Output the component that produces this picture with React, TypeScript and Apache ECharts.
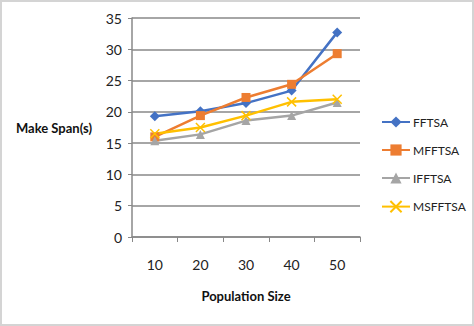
import React, { useEffect, useRef } from "react";
import * as echarts from "echarts";

const categories = ["10", "20", "30", "40", "50"];
const fftsa = [19.3, 20.1, 21.4, 23.4, 32.7];
const mfftsa = [16.0, 19.4, 22.3, 24.4, 29.3];
const ifftsa = [15.4, 16.4, 18.6, 19.4, 21.5];
const msfftsa = [16.5, 17.5, 19.4, 21.6, 22.0];

const FONT = "Lato, 'Open Sans', sans-serif";

export default function App() {
  const ref = useRef<HTMLDivElement>(null);
  useEffect(() => {
    if (!ref.current) return;
    const chart = echarts.init(ref.current, null, { renderer: "svg" });
    const mk = (name: string, data: number[], color: string, symbol: string, size: number, extra: any = {}) => ({
      name,
      type: "line",
      data,
      symbol,
      symbolSize: size,
      lineStyle: { color, width: 2.5 },
      itemStyle: { color, ...extra },
    });
    chart.setOption({
      animation: false,
      backgroundColor: "#ffffff",
      textStyle: { fontFamily: FONT },
      graphic: [
        {
          type: "rect",
          shape: { x: 1, y: 1, width: 472, height: 324 },
          style: { fill: "none", stroke: "#d4d4d4", lineWidth: 2 },
          silent: true,
        },
      ],
      grid: { left: 132, right: 114, top: 18, bottom: 89, containLabel: false },
      legend: {
        orient: "vertical",
        left: 376,
        top: 111,
        itemWidth: 28,
        itemHeight: 14,
        itemGap: 16,
        textStyle: { fontSize: 12, color: "#222", fontFamily: FONT, padding: [0, 0, 0, -2] },
        data: ["FFTSA", "MFFTSA", "IFFTSA", "MSFFTSA"],
      },
      xAxis: {
        type: "category",
        data: categories,
        boundaryGap: true,
        name: "Population Size",
        nameLocation: "middle",
        nameGap: 52,
        nameTextStyle: { fontSize: 13, fontWeight: "bold", color: "#111", fontFamily: FONT },
        axisLine: { lineStyle: { color: "#888888", width: 1.5 } },
        axisTick: { show: true, length: 5, lineStyle: { color: "#888888" } },
        axisLabel: { margin: 20, fontSize: 14, color: "#222", fontFamily: FONT },
      },
      yAxis: {
        type: "value",
        min: 0,
        max: 35,
        interval: 5,
        name: "Make Span(s)",
        nameLocation: "middle",
        nameRotate: 0,
        nameGap: 40,
        nameTextStyle: { fontSize: 13, fontWeight: "bold", color: "#111", fontFamily: FONT },
        axisLine: { show: true, lineStyle: { color: "#888888", width: 1.5 } },
        axisTick: { show: true, length: 4, lineStyle: { color: "#888888" } },
        axisLabel: { margin: 10, fontSize: 14, color: "#222", fontFamily: FONT },
        splitLine: { lineStyle: { color: "#888888", width: 1.5 } },
      },
      series: [
        mk("FFTSA", fftsa, "#4472C4", "diamond", 10),
        mk("MFFTSA", mfftsa, "#ED7D31", "rect", 9),
        mk("IFFTSA", ifftsa, "#A5A5A5", "triangle", 9),
        mk("MSFFTSA", msfftsa, "#FFC000", "path://M0 0L10 10M10 0L0 10", 9, {
          borderColor: "#FFC000",
          borderWidth: 1.5,
        }),
      ],
    });
    return () => chart.dispose();
  }, []);
  return (
    <div
      ref={ref}
      style={{ position: "fixed", left: 0, top: 0, width: 474, height: 326 }}
    />
  );
}
